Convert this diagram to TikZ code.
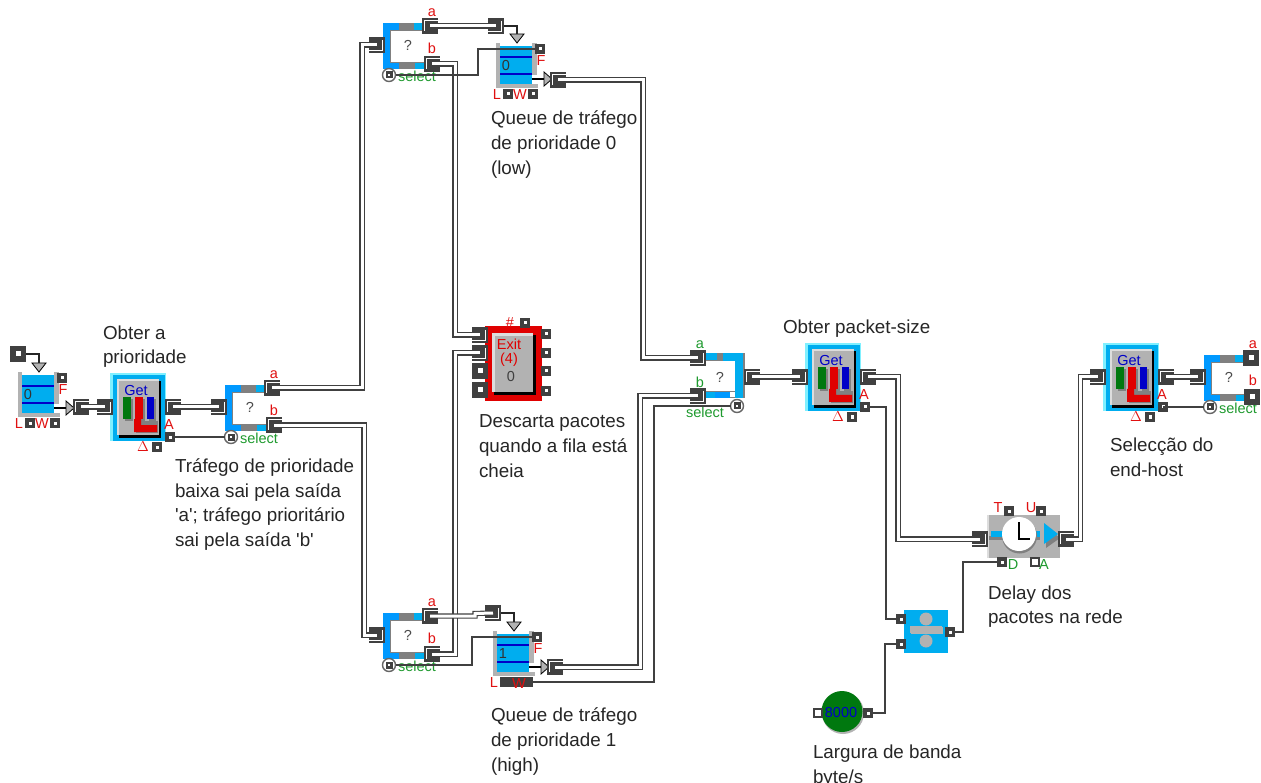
\documentclass[tikz,border=0pt]{standalone}
\usepackage{fontspec}
\setmainfont[Ligatures=TeXOff]{Liberation Sans}
\usetikzlibrary{calc}
\definecolor{dk}{HTML}{404040}
\definecolor{qblue}{HTML}{00ADEF}
\definecolor{sblue}{HTML}{0099FF}
\definecolor{lcyan}{HTML}{80F0FF}
\definecolor{mgray}{HTML}{B2B2B2}
\definecolor{lgray}{HTML}{DDDDDD}
\definecolor{sgray}{HTML}{808080}
\definecolor{navy}{HTML}{0000C8}
\definecolor{rd}{HTML}{E01010}
\definecolor{xred}{HTML}{E00000}
\definecolor{gn}{HTML}{1E9A2E}
\definecolor{dgreen}{HTML}{00780F}
\tikzset{
  x=1pt,y=-1pt,
  iport/.style={fill=dk,draw=none,minimum width=16pt,minimum height=15.5pt,inner sep=0pt,outer sep=0pt,rectangle},
  ioutp/.style={iport,path picture={\draw[white,line width=1pt] ($(path picture bounding box.center)+(8,-5.5)$) -- ++(-13.5,0) -- ++(0,10.5);}},
  iinp/.style={iport,path picture={\draw[white,line width=1pt] ($(path picture bounding box.center)+(-8,5.5)$) -- ++(13.5,0) -- ++(0,-10.5);}},
  ifree/.style={iport,path picture={\fill[white] ($(path picture bounding box.center)+(-2.5,-2.5)$) rectangle ++(5,5);}},
  vport/.style={fill=dk,draw=none,minimum size=10.5pt,inner sep=0pt,outer sep=0pt,rectangle,path picture={\fill[white] ($(path picture bounding box.center)+(-1.5,-1.5)$) rectangle ++(3,3);}},
  vfree/.style={fill=dk,draw=none,minimum size=10.5pt,inner sep=0pt,outer sep=0pt,rectangle,path picture={\fill[white] ($(path picture bounding box.center)+(-3.2,-3.2)$) rectangle ++(6.4,6.4);}},
  selport/.style={circle,draw=sgray!80!black,line width=1.4pt,fill=white,minimum size=13pt,inner sep=0pt,outer sep=0pt,path picture={\fill[dk] ($(path picture bounding box.center)+(-3.5,-3.5)$) rectangle ++(7,7);\fill[white] ($(path picture bounding box.center)+(-1,-1)$) rectangle ++(2,2);}},
  itemline/.style={draw=dk,double=white,double distance=3pt,line width=1.1pt},
  valline/.style={draw=dk,line width=2.7pt},
  thinline/.style={draw=black!85,line width=2pt},
  lbl/.style={inner sep=0pt,outer sep=0pt,font=\fontsize{14.5}{14.5}\selectfont},
  captiontext/.style={inner sep=0pt,outer sep=0pt,anchor=north west,align=left,text=black!85,font=\fontsize{18.8}{24.8}\selectfont},
  blockbody/.style={inner sep=0pt,outer sep=0pt,rectangle,draw=none},
}
% queue block: x,y = top-left of the grey body
\newcommand{\queuebody}[4]{%
\begin{scope}[shift={(#2,#3)}]
  \node[blockbody,fill=mgray,minimum width=4pt,minimum height=45pt] (#1) at (2,22.5) {};
  \fill[mgray] (36,0) rectangle (41,32);
  \fill[mgray] (0,41) rectangle (42,45);
  \fill[qblue] (4,3) rectangle (36,41);
  \fill[navy] (4,13) rectangle (36,15);
  \fill[navy] (4,30) rectangle (36,32);
  \node[lbl,text=black!80] (#1-val) at (10,23) {#4};
  \node[vport] (#1-F) at (44,6) {};
  \node[lbl,text=rd] (#1-Fl) at (45,18) {F};
  \fill[mgray] (14,-9) -- (28,-9) -- (21,0) -- cycle;
  \draw[black,line width=.8pt] (14,-9) -- (28,-9) -- (21,0) -- cycle;
  \coordinate (#1-top) at (21,-9);
  \draw[black,line width=1.6pt] (36,36) -- (48,36);
  \fill[mgray] (48,29) -- (56,36) -- (48,43) -- cycle;
  \draw[black,line width=.8pt] (48,29) -- (56,36) -- (48,43) -- cycle;
  \node[lbl,text=rd] (#1-Ll) at (1,52) {L};
\end{scope}}
\newcommand{\queueports}[3]{%
\begin{scope}[shift={(#2,#3)}]
  \node[vport] (#1-L) at (12,51) {};
  \node[lbl,text=rd] (#1-Wl) at (24,52) {W};
  \node[vport] (#1-W) at (37,51) {};
\end{scope}}
% get block: x,y = top-left of the cyan outer frame
\newcommand{\getblock}[3]{%
\begin{scope}[shift={(#2,#3)}]
  \node[blockbody,fill=lcyan,minimum width=56pt,minimum height=68pt] (#1) at (28,34) {};
  \fill[qblue] (3,2) rectangle (55,68);
  \fill[black] (9,8) rectangle (51,65);
  \fill[lgray] (7,6) rectangle (49,62);
  \fill[mgray] (9,8) rectangle (49,62);
  \node[lbl,text=navy] (#1-txt) at (26,17.5) {Get};
  \fill[sgray] (15,26) rectangle (23,48);
  \fill[dgreen] (13,24) rectangle (21,46);
  \fill[sgray] (27,26) rectangle (35,48);
  \fill[xred] (25,24) rectangle (33,46);
  \fill[sgray] (39,26) rectangle (46,48);
  \fill[navy] (37,24) rectangle (44,46);
  \fill[sgray] (26,48) rectangle (48,60);
  \fill[xred] (24,46) -- (31,46) -- (31,52) -- (47,52) -- (47,59) -- (24,59) -- cycle;
  \node[iinp] (#1-in) at (-5,34) {};
  \node[ioutp] (#1-out) at (63,34) {};
  \node[vport] (#1-A) at (60,64) {};
  \node[lbl,text=rd] (#1-Al) at (59,52) {A};
  \node[vport] (#1-D) at (47,74) {};
  \node[lbl,text=rd] (#1-Dl) at (33,74) {$\Delta$};
\end{scope}}
% select block: x,y = top-left of its frame
\newcommand{\selectblock}[3]{%
\begin{scope}[shift={(#2,#3)}]
  \node[blockbody,fill=white,minimum width=41pt,minimum height=45pt] (#1) at (20.5,22.5) {};
  \fill[sgray] (0,0) rectangle (41,8);
  \fill[sgray] (0,39) rectangle (41,46);
  \fill[sgray] (7,0) rectangle (8,46);
  \fill[sblue] (0,0) rectangle (16,7);
  \fill[qblue] (31,0) rectangle (41,7);
  \fill[sblue] (0,40) rectangle (16,46);
  \fill[qblue] (32,40) rectangle (41,46);
  \fill[sblue] (0,0) rectangle (7,46);
  \node[lbl,text=black!70] (#1-q) at (25,22) {?};
  \node[iinp] (#1-in) at (-6,22) {};
  \node[selport] (#1-sel) at (6,52) {};
  \node[lbl,text=gn] (#1-sl) at (34,53) {select};
  \node[lbl,text=rd] (#1-al) at (49,-10) {a};
  \node[lbl,text=rd] (#1-bl) at (49,25) {b};
\end{scope}}
\begin{document}
\begin{tikzpicture}
\useasboundingbox (0,0) rectangle (1261,783);
\fill[white] (0,0) rectangle (1261,783);

% ---------- input queue
\queuebody{q}{18}{372}{0}
\queueports{q}{18}{372}
\node[ifree] (qsrc) at (18,354) {};
\getblock{g1}{110}{373}
\selectblock{s1}{225}{385}
\node[ioutp] (s1a) at (272,388) {};
\node[ioutp] (s1b) at (274,425) {};
\node[ioutp] (qo) at (81,407) {};

% ---------- top queue
\selectblock{s2}{383}{23}
\node[ioutp] (s2a) at (430,26) {};
\node[ioutp] (s2b) at (432,64) {};
\queuebody{q0}{496}{43}{0}
\queueports{q0}{496}{43}
\node[iinp] (q0i) at (496,26) {};
\node[ioutp] (q0o) at (558,80) {};

% ---------- bottom queue
\selectblock{s3}{383}{613}
\node[ioutp] (s3a) at (430,616) {};
\node[ioutp] (s3b) at (432,654) {};
\queuebody{q1}{493}{631}{1}
\node[iinp] (q1i) at (493,613) {};
\node[ioutp] (q1o) at (555,667) {};
\node[blockbody,fill=dk,minimum width=33pt,minimum height=10pt] (q1w) at (516.5,682) {};
\node[lbl,text=rd] (q1wl) at (519,684) {W};

% ---------- exit
\node[blockbody,fill=xred,minimum width=57pt,minimum height=75pt] (ex) at (513.5,363.5) {};
\fill[black] (494,335) rectangle (536,395);
\fill[lgray] (492,333) rectangle (533,392);
\fill[mgray] (495,336) rectangle (533,392);
\node[lbl,text=xred] (ext) at (509,344) {Exit};
\node[lbl,text=xred] (ex4) at (509,360) {(4)};
\node[lbl,text=black!75] (ex0) at (511,377) {0};
\node[iinp] (exa) at (480,335) {};
\node[iinp] (exb) at (480,353) {};
\node[ifree] (exc) at (480,371) {};
\node[ifree] (exd) at (480,390) {};
\node[vport] (exr1) at (546,334) {};
\node[vport] (exr2) at (546,353) {};
\node[vport] (exr3) at (546,371) {};
\node[vport] (exr4) at (546,391) {};
\node[vport] (exn) at (525,323) {};
\node[lbl,text=rd] (exnl) at (510,323) {\#};

% ---------- mirrored select
\node[blockbody,fill=white,minimum width=38pt,minimum height=45pt] (sm) at (725,375.5) {};
\fill[sgray] (706,353) rectangle (744,361);
\fill[sgray] (706,391) rectangle (744,398);
\fill[sgray] (743,353) rectangle (744.5,398);
\fill[qblue] (706,353) rectangle (717,360);
\fill[qblue] (723,353) rectangle (743,361);
\fill[qblue] (706,392) rectangle (715,398);
\fill[sblue] (715,392) rectangle (730,398);
\fill[white] (730,392) rectangle (735,397);
\fill[qblue] (735,353) rectangle (743,398);
\node[lbl,text=black!70] (smq) at (720,377) {?};
\node[iinp] (sma) at (698,358) {};
\node[iinp] (smb) at (698,396) {};
\node[ioutp] (smo) at (752,377) {};
\node[selport] (sms) at (737,406) {};
\node[lbl,text=gn] (smal) at (700,345) {a};
\node[lbl,text=gn] (smbl) at (700,382) {b};
\node[lbl,text=gn] (smsl) at (705,412) {select};

% ---------- get 2, get 3, last select
\getblock{g2}{805}{343}
\getblock{g3}{1103}{343}
\selectblock{s4}{1204}{355}
\node[ifree] (s4a) at (1251,358) {};
\node[ifree] (s4b) at (1252,397) {};

% ---------- delay
\node[blockbody,fill=mgray,minimum width=73pt,minimum height=43pt] (dl) at (1023.5,536.5) {};
\fill[lgray] (987,515) rectangle (989,558);
\fill[sgray] (989,536) rectangle (1040,540);
\fill[qblue] (991,531) rectangle (1040,537);
\fill[sgray] (1046,527) -- (1060,538) -- (1046,548) -- cycle;
\fill[qblue] (1044,523) -- (1058,534) -- (1044,544) -- cycle;
\fill[sgray] (1019.5,536) circle (17.5);
\node[circle,fill=white,minimum size=34pt,inner sep=0pt] (dlc) at (1019,534) {};
\draw[black,line width=2pt] (1019,522) -- (1019,538.5) -- (1030,538.5);
\node[iinp] (dli) at (980,539) {};
\node[ioutp] (dlo) at (1066,539) {};
\node[vport] (dlT) at (1009,511) {};
\node[vport] (dlU) at (1041,511) {};
\node[vport] (dlD) at (1002,562) {};
\node[vfree] (dlA) at (1035,562) {};
\node[lbl,text=rd] (dlTl) at (998,508) {T};
\node[lbl,text=rd] (dlUl) at (1031,508) {U};
\node[lbl,text=gn] (dlDl) at (1013,565) {D};
\node[lbl,text=gn] (dlAl) at (1044,565) {A};

% ---------- divide
\node[blockbody,fill=qblue,minimum width=44pt,minimum height=43pt] (dv) at (926,631.5) {};
\node[circle,fill=mgray,minimum size=13pt,inner sep=0pt] (dvc1) at (926,619) {};
\node[circle,fill=mgray,minimum size=13pt,inner sep=0pt] (dvc2) at (926,641) {};
\fill[sgray!60] (911,627) rectangle (943,634);
\fill[mgray] (910,626) rectangle (942,633);
\node[vport] (dv1) at (901,619) {};
\node[vport] (dv2) at (901,644) {};
\node[vport] (dvo) at (950,632) {};

% ---------- constant
\fill[sgray!60] (843,713) circle (21);
\node[circle,fill=dgreen,minimum size=41pt,inner sep=0pt] (cn) at (842,711.5) {};
\node[vfree] (cni) at (818,713) {};
\node[lbl,text=navy] (cnt) at (841,713) {8000};
\node[vport] (cno) at (868,713) {};

% ---------- item connectors
\draw[itemline] (qo.center) -- (g1-in.center);
\draw[itemline] (g1-out.center) -- (s1-in.center);
\draw[itemline] (s1a.center) -- ++(90,0) |- (s2-in.center);
\draw[itemline] (s1b.center) -- ++(90,0) |- (s3-in.center);
\draw[itemline] (s2a.center) -- (q0i.center);
\draw[itemline] (s2b.center) -- ++(23,0) |- (exa.center);
\draw[itemline] (s3b.center) -- ++(23,0) |- (exb.center);
\draw[itemline] (s3a.center) -- ++(45,0) -- ++(0,-2.5) -- (q1i.center);
\draw[itemline] (q0o.center) -- ++(85,0) |- (sma.center);
\draw[itemline] (q1o.center) -- ++(85,0) |- (smb.center);
\draw[itemline] (smo.center) -- (g2-in.center);
\draw[itemline] (g2-out.center) -- ++(30,0) |- (dli.center);
\draw[itemline] (dlo.center) -- ++(14.5,0) |- (g3-in.center);
\draw[itemline] (g3-out.center) -- (s4-in.center);

% ---------- value connectors
\draw[thinline] (qsrc.east) -| (q-top);
\draw[thinline] (q0i.east) -| (q0-top);
\draw[thinline] (q1i.east) -| (q1-top);
\draw[valline] (g1-A.east) -- (s1-sel.west);
\draw[valline] (s2-sel.east) -- ++(82.5,0) |- (q0-F.west);
\draw[valline] (s3-sel.east) -- ++(76.5,0) |- (q1-F.west);
\draw[valline] (q1w.east) -- ++(121,0) |- (sms.west);
\draw[valline] (g2-A.east) -- ++(15.75,0) |- (dv1.west);
\draw[valline] (cno.east) -- ++(11.75,0) |- (dv2.west);
\draw[valline] (dvo.east) -- ++(7.75,0) |- (dlD.west);
\draw[valline] (g3-A.center) -- (s4-sel.west);

% ---------- captions
\node[captiontext] (c1) at (103,325.5) {Obter a\\prioridade};
\node[captiontext] (c2) at (175,458.5) {Tráfego de prioridade\\baixa sai pela saída\\'a'; tráfego prioritário\\sai pela saída 'b'};
\node[captiontext] (c3) at (491,111) {Queue de tráfego\\de prioridade 0\\(low)};
\node[captiontext] (c4) at (479,415) {Descarta pacotes\\quando a fila está\\cheia};
\node[captiontext] (c5) at (491,708) {Queue de tráfego\\de prioridade 1\\(high)};
\node[captiontext] (c6) at (783,319.5) {Obter packet-size};
\node[captiontext] (c7) at (1110,438) {Selecção do\\end-host};
\node[captiontext] (c8) at (988,585.5) {Delay dos\\pacotes na rede};
\node[captiontext] (c9) at (813,745) {Largura de banda\\byte/s};
\end{tikzpicture}
\end{document}
